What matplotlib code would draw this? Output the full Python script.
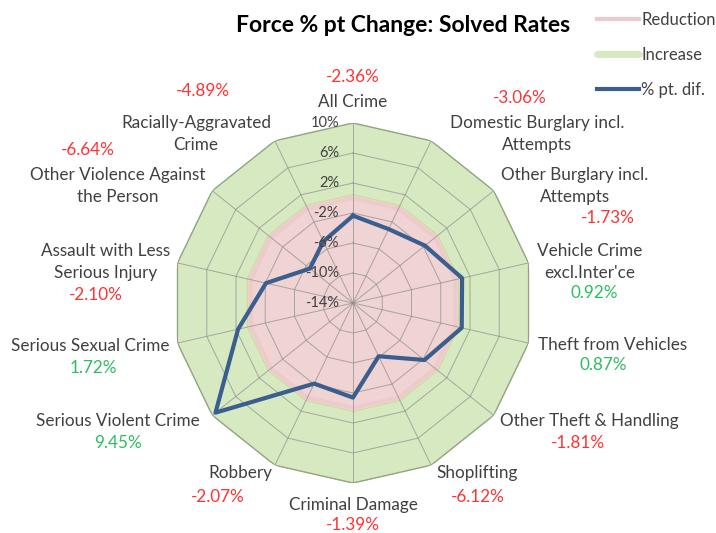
import numpy as np
import matplotlib
matplotlib.use("Agg")
import matplotlib.pyplot as plt

# data
categories = ["All Crime", "Domestic Burglary incl.\nAttempts", "Other Burglary incl.\nAttempts",
              "Vehicle Crime\nexcl.Inter'ce", "Theft from Vehicles", "Other Theft & Handling",
              "Shoplifting", "Criminal Damage", "Robbery", "Serious Violent Crime",
              "Serious Sexual Crime", "Assault with Less\nSerious Injury",
              "Other Violence Against\nthe Person", "Racially-Aggravated\nCrime"]
pt_dif = [-2.36, -3.06, -1.73, 0.92, 0.87, -1.81, -6.12, -1.39, -2.07, 9.45, 1.72, -2.10, -6.64, -4.89]
reduction = [0] * len(categories)
increase = [10] * len(categories)
r_ticks = [-14, -10, -6, -2, 2, 6, 10]

# label offsets in pixels from the outer vertex: (name dx, name dy, value dx, value dy)
label_offsets = [(0, 21, 0, 46), (106, 7, 89, 43), (81, 5, 114, -27), (61, 1, 66, -30),
                 (84, -2, 75, -22), (96, -6, 84, -28), (46, -8, 47, -32), (0, -22, 0, -42),
                 (-35, -8, -57, -32), (-94, -6, -94, -28), (-87, -3, -84, -25),
                 (-72, 1, -82, -32), (-95, 5, -124, 41), (-79, 7, -72, 50)]

plt.rcParams['font.family'] = ['Lato', 'DejaVu Sans']

fig = plt.figure(figsize=(7.16, 5.33), dpi=100)
cx, cy, R = 353 / 716, 1 - 303 / 533, 180
ax = fig.add_axes([cx - R / 716, cy - R / 533, 2 * R / 716, 2 * R / 533], projection='polar')
ax.set_theta_zero_location('N')
ax.set_theta_direction(-1)
ax.set_ylim(-14, 10)
ax.grid(False)
ax.set_xticks([])
ax.set_yticks([])
ax.spines['polar'].set_visible(False)
ax.patch.set_alpha(0)

n = len(categories)
theta = np.arange(n) * 2 * np.pi / n
tc = np.append(theta, theta[0])

def closed(v):
    return np.append(v, v[0])

ax.fill(tc, closed(increase), color='#D7E9C1', zorder=1)
ax.plot(tc, closed(increase), color='#A9C38A', lw=1, zorder=2)
ax.fill(tc, closed(reduction), color='#F0D3D3', zorder=2)
red_line, = ax.plot(tc, closed(reduction), color='#EFCACC', lw=3, zorder=2,
                    solid_joinstyle='round', label='Reduction')
ax.plot(tc, closed(reduction) + 0.45, color='#D8D3A6', lw=0.8, zorder=2)
inc_line = plt.Line2D([], [], color='#D7E9C1', lw=5, solid_capstyle='round', label='Increase')

# polygon gridlines and spokes
for r in r_ticks:
    ax.plot(tc, [r] * (n + 1), color='#8C8C8C', lw=0.7, alpha=0.7, zorder=3)
for t in theta:
    ax.plot([t, t], [-14, 10], color='#8C8C8C', lw=0.7, alpha=0.7, zorder=3)

blue_line, = ax.plot(tc, closed(pt_dif), color='#3A5F8E', lw=3, zorder=5, label='% pt. dif.')

for r in r_ticks:
    ax.annotate(f"{r}%", xy=(0, r), xytext=(-14, 0), textcoords='offset pixels',
                ha='right', va='center', fontsize=10.5, color='#404040', zorder=6)

for i, (name, v) in enumerate(zip(categories, pt_dif)):
    ndx, ndy, vdx, vdy = label_offsets[i]
    ax.annotate(name, xy=(theta[i], 10), xytext=(ndx, ndy), textcoords='offset pixels',
                ha='center', va='center', fontsize=12.3, color='#404040',
                linespacing=1.45, annotation_clip=False)
    col = '#FF3333' if v < 0 else '#2DBE60'
    ax.annotate(f"{v:.2f}%", xy=(theta[i], 10), xytext=(vdx, vdy), textcoords='offset pixels',
                ha='center', va='center', fontsize=12.3, color=col, annotation_clip=False)

fig.text(403 / 716, 1 - 25 / 533, "Force % pt Change: Solved Rates", ha='center', va='center',
         fontsize=16.5, fontweight='bold', color='black')

fig.legend(handles=[red_line, inc_line, blue_line], loc='upper left',
           bbox_to_anchor=(597 / 716, 1 - 12 / 533), frameon=False, fontsize=12,
           handlelength=2.5, handletextpad=0.15, labelspacing=1.15, borderpad=0,
           borderaxespad=0, labelcolor='#404040')

fig.savefig("out.png", dpi=100)
